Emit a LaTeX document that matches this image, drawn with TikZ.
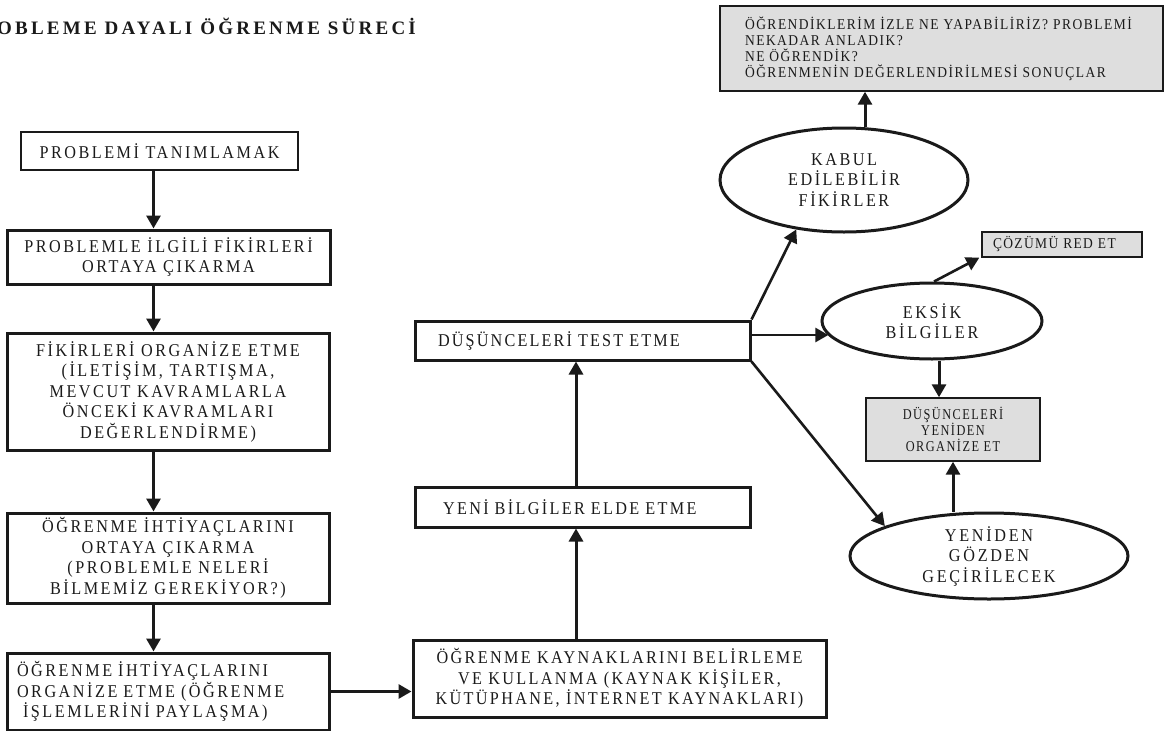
\documentclass[tikz,border=0pt]{standalone}
\usepackage{fontspec}
\setmainfont{Liberation Serif}
\usetikzlibrary{shapes.geometric,arrows.meta}
\definecolor{boxgray}{HTML}{DEDEDE}
\definecolor{ink}{HTML}{1A1A1A}
\newcommand\LS[2]{\addfontfeatures{FakeStretch=#1,LetterSpace=#2}}
\begin{document}
\begin{tikzpicture}[x=1pt,y=-1pt,
  big/.style={font=\fontsize{18}{20.5}\selectfont\LS{0.9}{#1}},
  small/.style={font=\fontsize{15}{16}\selectfont\LS{0.9}{#1}},
  base/.style={draw=ink, text=ink, inner sep=0pt, align=center},
  thickbox/.style={base, rectangle, line width=3pt},
  thinbox/.style={base, rectangle, line width=1.4pt},
  graybox/.style={base, rectangle, line width=1.4pt, fill=boxgray},
  oval/.style={base, ellipse, line width=3pt},
  arr/.style={draw=ink, line width=3pt, -{Triangle[length=13pt,width=14pt]}},
  arrthin/.style={draw=ink, line width=2.6pt, -{Triangle[length=13pt,width=14pt]}},
]
\useasboundingbox (0,0) rectangle (1165,731);

% title
\node[anchor=west, text=ink, inner sep=0pt, font=\fontsize{19}{21}\selectfont\bfseries\addfontfeatures{LetterSpace=17}] (title) at (-3,26) {OBLEME DAYALI ÖĞRENME SÜRECİ};

% left column
\node[thinbox, big=14, minimum width=277pt, minimum height=38pt] (b1) at (159.5,151) {PROBLEMİ TANIMLAMAK};
\node[thickbox, big=14, minimum width=323pt, minimum height=54pt] (b2) at (168.5,257) {PROBLEMLE İLGİLİ FİKİRLERİ\\ORTAYA ÇIKARMA};
\node[thickbox, big=14, minimum width=322pt, minimum height=117pt] (b3) at (168,391.5) {FİKİRLERİ ORGANİZE ETME\\(İLETİŞİM, TARTIŞMA,\\MEVCUT KAVRAMLARLA\\ÖNCEKİ KAVRAMLARI\\DEĞERLENDİRME)};
\node[thickbox, big=14, minimum width=322pt, minimum height=90pt] (b4) at (168,558) {ÖĞRENME İHTİYAÇLARINI\\ORTAYA ÇIKARMA\\(PROBLEMLE NELERİ\\BİLMEMİZ GEREKİYOR?)};
\node[thickbox, big=14, align=left, text width=302pt, inner xsep=10pt, minimum height=77pt] (b5) at (168,691.5) {ÖĞRENME İHTİYAÇLARINI\\ORGANİZE ETME (ÖĞRENME\\\hspace*{6pt}İŞLEMLERİNİ PAYLAŞMA)};

% middle column
\node[thickbox, big=13, minimum width=413pt, minimum height=77pt] (b6) at (619.5,678.5) {ÖĞRENME KAYNAKLARINI BELİRLEME\\VE KULLANMA (KAYNAK KİŞİLER,\\KÜTÜPHANE, İNTERNET KAYNAKLARI)};
\node[thickbox, big=13, align=left, text width=279pt, inner xsep=28pt, minimum height=40pt] (b7) at (582.5,507) {YENİ BİLGİLER ELDE ETME};
\node[thickbox, big=12, align=left, text width=289pt, inner xsep=23pt, minimum height=39pt] (b8) at (582.5,340.5) {DÜŞÜNCELERİ TEST ETME};

% right part
\node[graybox, small=10, align=left, text width=393pt, inner xsep=25pt, minimum height=85pt] (top) at (941.5,48.5) {ÖĞRENDİKLERİM İZLE NE YAPABİLİRİZ? PROBLEMİ\\NEKADAR ANLADIK?\\NE ÖĞRENDİK?\\ÖĞRENMENİN DEĞERLENDİRİLMESİ SONUÇLAR};
\node[oval, big=14, minimum width=248pt, minimum height=104pt] (kabul) at (844,180) {KABUL\\EDİLEBİLİR\\FİKİRLER};
\node[graybox, small=9, align=left, text width=138pt, inner xsep=11pt, minimum height=25pt] (cozum) at (1062,244.5) {ÇÖZÜMÜ RED ET};
\node[oval, big=15, minimum width=220pt, minimum height=76pt] (eksik) at (932,321) {EKSİK\\BİLGİLER};
\node[graybox, font=\fontsize{15}{16}\selectfont\LS{0.82}{10}, minimum width=174pt, minimum height=63pt] (gray2) at (953,429.5) {DÜŞÜNCELERİ\\YENİDEN\\ORGANİZE ET};
\node[oval, big=15, minimum width=278pt, minimum height=86pt] (yeniden) at (989,556) {YENİDEN\\GÖZDEN\\GEÇİRİLECEK};

% helper x positions
\coordinate (lx) at (153.5,0);
\coordinate (mx) at (576,0);
\coordinate (kx) at (865,0);
\coordinate (ex) at (939,0);

% connectors
\draw[arr] (b1.south -| lx) -- (b2.north -| lx);
\draw[arr] (b2.south -| lx) -- (b3.north -| lx);
\draw[arr] (b3.south -| lx) -- (b4.north -| lx);
\draw[arr] (b4.south -| lx) -- (b5.north -| lx);
\draw[arr] (b5.east) -- (b5.east -| b6.west);
\draw[arr] (b6.north -| mx) -- (b7.south -| mx);
\draw[arr] (b7.north -| mx) -- (b8.south -| mx);
\draw[arrthin] (b8.north east) -- (kabul.226);
\draw[arrthin] ([yshift=5.5pt]b8.east) -- ([yshift=5.5pt]b8.east -| eksik.188);
\draw[arrthin] (b8.south east) -- (yeniden.164);
\draw[arr] (kabul.north -| kx) -- (top.south -| kx);
\draw[arrthin] (eksik.87) -- ([xshift=-2pt]cozum.south west);
\draw[arr] (eksik.south -| ex) -- (gray2.north -| ex);
\draw[arr] (yeniden.north -| gray2.south) -- (gray2.south);
\end{tikzpicture}
\end{document}
